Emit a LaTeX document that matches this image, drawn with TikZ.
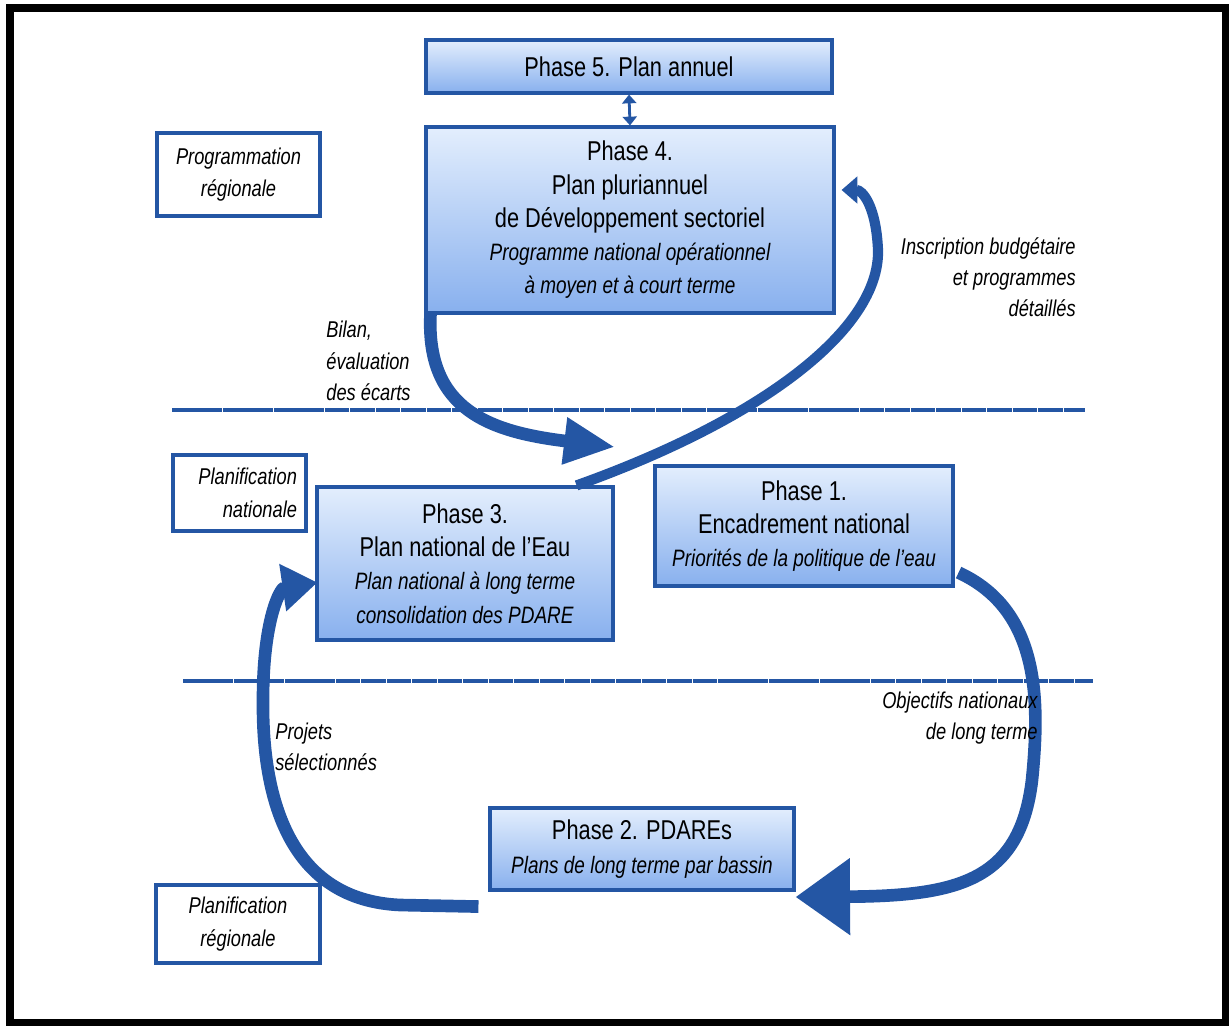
\documentclass[tikz,border=0pt]{standalone}
\usepackage{fontspec}
\setmainfont[FakeStretch=0.8]{Liberation Sans}
\usetikzlibrary{arrows.meta, calc, shapes}

\definecolor{flowblue}{HTML}{2456A4}
\definecolor{boxtop}{HTML}{E3EEFD}
\definecolor{boxbot}{HTML}{88B0EE}

\begin{document}
\begin{tikzpicture}[x=0.02cm, y=-0.02cm,
    phase/.style={draw=flowblue, line width=1.8pt, top color=boxtop, bottom color=boxbot,
        align=center, inner sep=0pt, font=\fontsize{15.5}{18.9}\selectfont},
    level/.style={draw=flowblue, line width=1.8pt, fill=white, inner sep=0pt,
        font=\itshape\fontsize{13}{18.5}\selectfont},
    note/.style={inner sep=0pt, font=\itshape\fontsize{13}{17.8}\selectfont},
    flow/.style={draw=flowblue, line width=7.2pt},
    sep/.style={draw=flowblue, line width=2.2pt, dash pattern=on 14pt off 0.5pt}]
            \useasboundingbox (0,0) rectangle (1229,1026);
            \draw[line width=4pt] (10,8) rectangle (1225,1023);

            % levels
            \draw (238.5,174.5) node[level, minimum width=3.26cm, minimum height=1.66cm, align=center](progreg){Programmation\\régionale};
            \draw (239.5,493) node[level, minimum width=2.66cm, minimum height=1.52cm, align=right, text width=2.3cm](plannat){Planification\\nationale};
            \draw (238,924) node[level, minimum width=3.28cm, minimum height=1.56cm, align=center](planreg){Planification\\régionale};

            \draw[sep] (172,410) -- (1085,410);
            \draw[sep] (183,681) -- (1093,681);

            % phases
            \draw (629,66.5) node[phase, minimum width=8.12cm, minimum height=1.06cm](p5){Phase 5. Plan annuel};
            \draw (630,220) node[phase, minimum width=8.16cm, minimum height=3.72cm](p4){Phase 4.\\Plan pluriannuel\\de Développement sectoriel\\
                {\itshape\fontsize{13.5}{18.9}\selectfont Programme national opérationnel}\\{\itshape\fontsize{13.5}{18.9}\selectfont à moyen et à court terme}};
            \draw (465,563.5) node[phase, minimum width=5.92cm, minimum height=3.06cm](p3){Phase 3.\\Plan national de l'Eau\\
                {\itshape\fontsize{13.5}{18.9}\selectfont Plan national à long terme}\\{\itshape\fontsize{13.5}{18.9}\selectfont consolidation des PDARE}};
            \draw (804,526) node[phase, minimum width=5.96cm, minimum height=2.4cm](p1){Phase 1.\\Encadrement national\\
                {\itshape\fontsize{13.5}{18.9}\selectfont Priorités de la politique de l'eau}};
            \draw (642,849) node[phase, minimum width=6.08cm, minimum height=1.64cm](p2){Phase 2. PDAREs\\
                {\itshape\fontsize{13.5}{18.9}\selectfont Plans de long terme par bassin}};

            \coordinate (bilan) at (615,447);

            % flows
            \draw[draw=flowblue, line width=1.6pt, {Triangle[length=5pt, width=8pt]}-{Triangle[length=5pt, width=8pt]}] (p5.south) -- (p4.north);
            \draw[flow, -{Triangle[length=29pt, width=25pt]}] ($(p4.south west)+(6,0)$) .. controls (426,410) and (490,432) .. (bilan);
            \draw[flow, line width=5.8pt, -{Triangle[length=9pt, width=15pt]}] ($(p3.north east)+(-38,0)$) .. controls (760,420) and (880,330) .. (878,250)
                .. controls (876,205) and (862,190) .. ($(p4.east)+(6,-30)$);
            \draw[flow, -{Triangle[length=31pt, width=42pt]}] ($(p1.south east)+(4,-15)$) .. controls (1040,610) and (1040,700) .. (1032,780)
                .. controls (1020,880) and (960,896) .. ($(p2.east)+(0,48)$);
            \draw[flow, -{Triangle[length=20pt, width=26pt]}] ($(p2.south west)+(-10,15)$) -- (400,905) .. controls (290,900) and (262,800) .. (263,700)
                .. controls (263,620) and (280,588) .. ($(p3.west)+(2,19)$);

            % labels
            \draw (326,361) node[note, anchor=west, align=left](bilantxt){Bilan,\\évaluation\\des écarts};
            \draw (1076,277) node[note, anchor=east, align=right](budget){Inscription budgétaire\\et programmes\\détaillés};
            \draw (1038,718) node[note, anchor=east, align=right](objectifs){Objectifs nationaux\\de long terme};
            \draw (275,747) node[note, anchor=west, align=left](projets){Projets\\sélectionnés};
        \end{tikzpicture}
\end{document}
